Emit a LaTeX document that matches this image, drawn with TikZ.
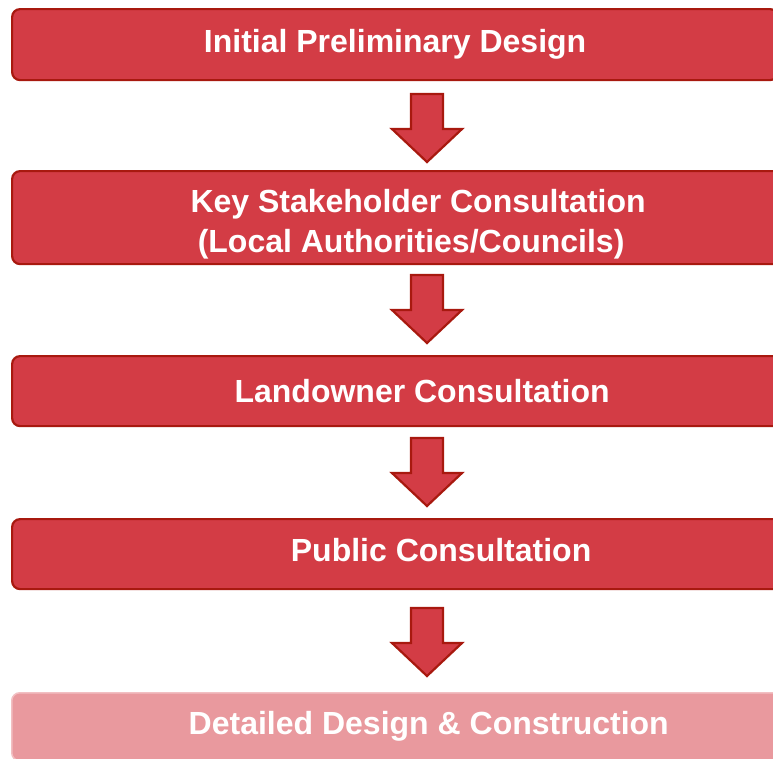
\documentclass[tikz,border=0pt]{standalone}
\usepackage{fontspec}
\setmainfont{Liberation Sans}
\definecolor{boxfill}{HTML}{D33C45}
\definecolor{boxline}{HTML}{A8190F}
\definecolor{lastfill}{HTML}{E9999E}
\definecolor{lastline}{HTML}{F2BFC2}
\newcommand\shifttext[2]{\raisebox{#1}[\height][\depth]{#2}}
\begin{document}
\begin{tikzpicture}[x=1pt,y=-1pt,
  stagebox/.style={draw=boxline, fill=boxfill, line width=2.2pt, rounded corners=8pt,
    anchor=north west, inner sep=0pt, text=white, align=center,
    font=\bfseries\fontsize{32}{40}\selectfont},
  laststage/.style={stagebox, draw=lastline, fill=lastfill, line width=1.5pt},
  blockarrow/.style={draw=boxline, fill=boxfill, line width=2.2pt, line join=miter}]
\useasboundingbox (0,0) rectangle (773,758);
\clip (0,0) rectangle (773,758);
\node[stagebox, minimum width=766pt, minimum height=71pt] (b1) at (11,8) {Initial Preliminary Design};
\node[stagebox, minimum width=812pt, minimum height=93pt] (b2) at (11,170)
  {\shifttext{-7pt}{\begin{tabular}{@{}c@{}}Key Stakeholder Consultation\\(Local Authorities/Councils)\hspace*{14pt}\end{tabular}}};
\node[stagebox, minimum width=820pt, minimum height=70pt] (b3) at (11,355) {Landowner Consultation};
\node[stagebox, minimum width=858pt, minimum height=70pt] (b4) at (11,518) {\shifttext{4pt}{Public Consultation}};
\node[laststage, minimum width=834pt, minimum height=68pt] (b5) at (11,692) {Detailed Design \& Construction};
\foreach \y in {94,275,438,608}{
  \draw[blockarrow] (411,\y) -- (443,\y) -- (443,\y+35) -- (462,\y+35) -- (427,\y+68)
    -- (392,\y+35) -- (411,\y+35) -- cycle;
}
\end{tikzpicture}
\end{document}
